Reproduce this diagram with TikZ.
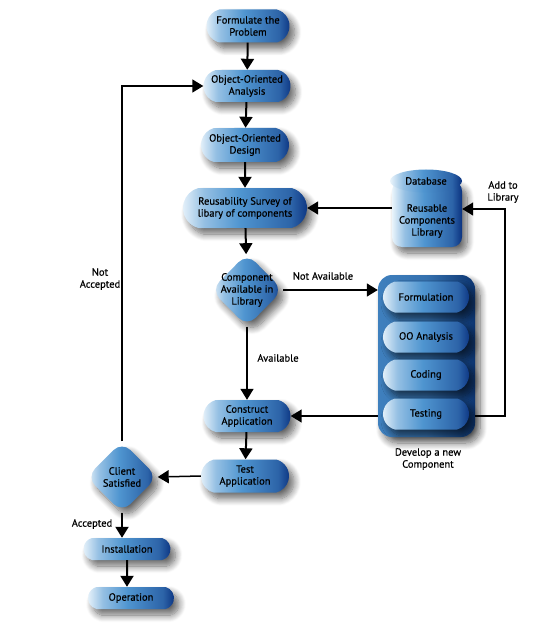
\documentclass[tikz,border=0pt]{standalone}
\usepackage{fontspec}
\setmainfont[FakeBold=0.5]{PT Sans}
\usetikzlibrary{arrows.meta,shapes.geometric,shapes.misc,shadows.blur}
\definecolor{pl}{HTML}{EAF4FB}
\definecolor{pm}{HTML}{4F95D0}
\definecolor{pr}{HTML}{0A3280}
\definecolor{dl}{HTML}{3F80BE}
\definecolor{dr}{HTML}{0C3470}
\pgfdeclareverticalshading{pillshade}{100bp}{color(0bp)=(pr); color(25bp)=(pr); color(32bp)=(pm!50!pr); color(52bp)=(pm); color(66bp)=(pm!55!pl); color(75bp)=(pl); color(100bp)=(pl)}
\pgfdeclareverticalshading{devshade}{100bp}{color(0bp)=(dr); color(25bp)=(dr); color(50bp)=(dl!80!dr); color(75bp)=(dl); color(100bp)=(dl)}
\tikzset{
  shad/.style={blur shadow={shadow xshift=5pt, shadow yshift=-6pt, shadow blur steps=10, shadow opacity=60, shadow blur radius=7pt}},
  pill/.style={shape=rounded rectangle, rounded rectangle arc length=150, shading=pillshade, shading angle=90, shad, align=center, inner sep=1pt, font=\fontsize{10.5}{12}\selectfont},
  diam/.style={shape=diamond, rounded corners=12pt, shading=pillshade, shading angle=90, shad, inner sep=0pt, aspect=1},
  devbox/.style={shape=rectangle, rounded corners=14pt, shading=devshade, shading angle=90, shad},
  lbl/.style={align=center, font=\fontsize{10.5}{12}\selectfont, inner sep=1pt},
  arr/.style={line width=2pt, -{Triangle[length=11pt,width=13pt]}},
  loop/.style={line width=1.5pt, -{Triangle[length=11pt,width=13pt]}}
}
\begin{document}
\begin{tikzpicture}[x=1pt,y=-1pt]
\useasboundingbox (0,0) rectangle (544,631);
% main column
\node[pill, minimum width=85pt, minimum height=33pt] (form) at (248,26) {Formulate the\\Problem};
\node[pill, minimum width=89pt, minimum height=32pt] (ooa) at (247,86) {Object-Oriented\\Analysis};
\node[pill, minimum width=90pt, minimum height=34pt] (ood) at (245,145) {Object-Oriented\\Design};
\node[pill, minimum width=126pt, minimum height=40pt] (surv) at (245,208) {Reusability Survey of\\libary of components};
\node[diam, minimum width=72pt, minimum height=73pt, label={[lbl]center:Component\\Available in\\Library}] (comp) at (247,290) {};
\node[pill, minimum width=89pt, minimum height=32pt] (cons) at (247,416) {Construct\\Application};
\node[pill, minimum width=90pt, minimum height=33pt] (test) at (245,476) {Test\\Application};
\node[diam, minimum width=71pt, minimum height=71pt, label={[lbl]center:Client\\Satisfied}] (client) at (122,477) {};
\node[pill, minimum width=89pt, minimum height=22pt] (inst) at (127,549) {Installation};
\node[pill, minimum width=88pt, minimum height=22pt] (oper) at (131,598) {Operation};
% library cylinder
\node[shape=rectangle, rounded corners=10pt, shading=pillshade, shading angle=90, shad, minimum width=70pt, minimum height=66pt] (lib) at (427,214) {};
\node[shape=ellipse, shading=pillshade, shading angle=90, minimum width=72pt, minimum height=23pt, inner sep=0pt, font=\fontsize{10.5}{12}\selectfont] (dbtop) at (426,181) {Database};
\node[lbl] (libtxt) at (427,221) {Reusable\\Components\\Library};
% develop box
\node[devbox, minimum width=97pt, minimum height=162pt] (dev) at (426.5,356) {};
\node[pill, shad/.style={}, minimum width=88pt, minimum height=31pt] (f1) at (426,297) {Formulation};
\node[pill, shad/.style={}, minimum width=88pt, minimum height=31pt] (f2) at (426,337) {OO Analysis};
\node[pill, shad/.style={}, minimum width=88pt, minimum height=31pt] (f3) at (426,375) {Coding};
\node[pill, shad/.style={}, minimum width=88pt, minimum height=31pt] (f4) at (426,414) {Testing};
\node[lbl] (devlbl) at (428,459) {Develop a new\\Component};
% labels
\node[lbl] (nalbl) at (323,276) {Not Available};
\node[lbl] (avlbl) at (278,358) {Available};
\node[lbl] (addlbl) at (503,192) {Add to\\Library};
\node[lbl] (nacc) at (100,279) {Not\\Accepted};
\node[lbl] (acc) at (92,524) {Accepted};
\coordinate (c1) at (505,416);
\coordinate (c2) at (505,209);
% connectors
\draw[arr] (form) -- (ooa);
\draw[arr] (ooa) -- (ood);
\draw[arr] (ood) -- (surv);
\draw[arr] (surv) -- (comp);
\draw[loop] (comp.east) -- (comp.east -| dev.west);
\draw[loop] (comp.south) -- (cons.north);
\draw[arr] (cons) -- (test);
\draw[loop] (test.west) -- (client.east);
\draw[arr] (client.south) -- (inst.north -| client.south);
\draw[arr] (inst) -- (inst |- oper.north);
\draw[loop] (lib.west |- surv.east) -- (surv.east);
\draw[loop] (dev.west |- cons.east) -- (cons.east);
\draw[loop] (c1 -| dev.east) -- (c1) -- (c2) -- (c2 -| lib.east);
\draw[loop] (client.north) -- (client.north |- ooa.west) -- (ooa.west);
\end{tikzpicture}
\end{document}
